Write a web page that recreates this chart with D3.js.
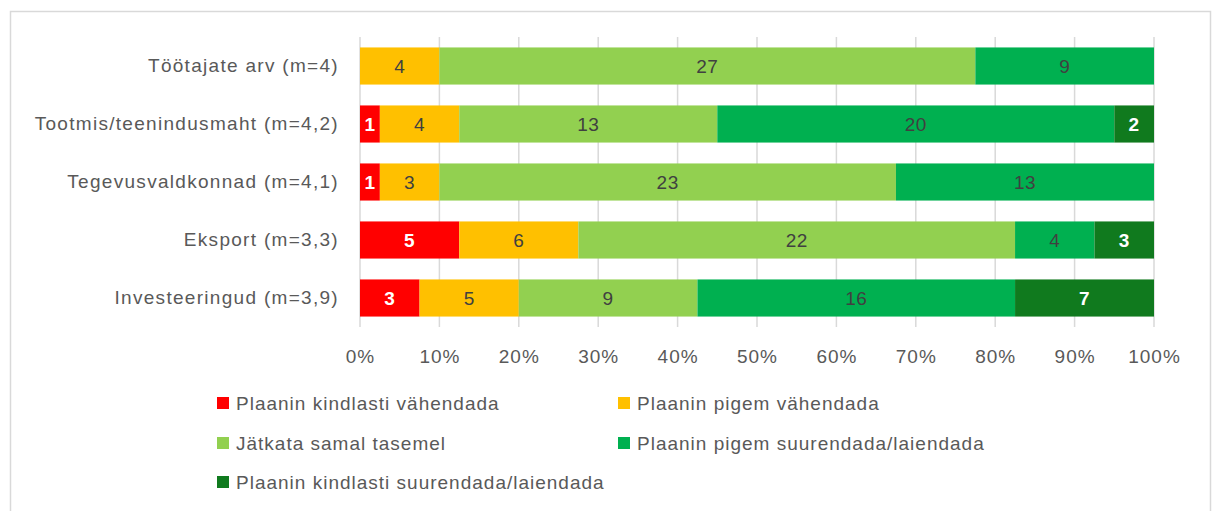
<!DOCTYPE html>
<html><head><meta charset="utf-8">
<script src="https://cdn.jsdelivr.net/npm/d3@7"></script>
<style>body{margin:0;background:#fff;}svg{display:block;font-family:"Liberation Sans",Arial,sans-serif;}</style>
</head><body><svg id="c" width="1216" height="511"></svg>
<script>
const categories = ["Töötajate arv (m=4)","Tootmis/teenindusmaht (m=4,2)","Tegevusvaldkonnad (m=4,1)","Eksport (m=3,3)","Investeeringud (m=3,9)"];
const seriesNames = ["Plaanin kindlasti vähendada","Plaanin pigem vähendada","Jätkata samal tasemel","Plaanin pigem suurendada/laiendada","Plaanin kindlasti suurendada/laiendada"];
const kindlastiVah = [0,1,1,5,3];
const pigemVah = [4,4,3,6,5];
const samal = [27,13,23,22,9];
const pigemSuur = [9,20,13,4,16];
const kindlastiSuur = [0,2,0,3,7];
const colors = ["#FF0000","#FFC000","#92D050","#00B050","#107A1E"];
const labelColors = ["#ffffff","#404040","#404040","#404040","#ffffff"];
const labelWeights = ["bold","normal","normal","normal","bold"];
const tickValues = [0,0.1,0.2,0.3,0.4,0.5,0.6,0.7,0.8,0.9,1];

const svg = d3.select("#c");
svg.append("rect").attr("x",10.5).attr("y",11.5).attr("width",1200).attr("height",520)
  .attr("fill","#fff").attr("stroke","#d9d9d9").attr("stroke-width",1.5);

const x = d3.scaleLinear().domain([0,1]).range([360,1154]);
const y = d3.scaleBand().domain(categories).range([37,327]).paddingInner(0.36).paddingOuter(0.18);

const rows = categories.map((c,i)=>({cat:c, vals:[kindlastiVah[i],pigemVah[i],samal[i],pigemSuur[i],kindlastiSuur[i]]}));

// gridlines + tick labels
const xAxis = d3.axisBottom(x).tickValues(tickValues).tickFormat(d3.format(".0%")).tickSize(0);
const gx = svg.append("g").attr("transform","translate(0,327)").call(xAxis);
gx.select(".domain").remove();
gx.selectAll(".tick text").attr("dy",0).attr("y",36).attr("fill","#595959")
  .style("font-size","19px").style("letter-spacing","1px");
svg.append("g").selectAll("line").data(tickValues).join("line")
  .attr("x1",d=>x(d)).attr("x2",d=>x(d)).attr("y1",37).attr("y2",327)
  .attr("stroke","#d9d9d9").attr("stroke-width",1.5);

// y labels
const yAxis = d3.axisLeft(y).tickSize(0).tickPadding(21);
const gy = svg.append("g").attr("transform","translate(360,0)").call(yAxis);
gy.select(".domain").remove();
gy.selectAll(".tick text").attr("fill","#595959").style("font-size","19px").style("letter-spacing","1.3px");

// bars
rows.forEach(r=>{
  const total = d3.sum(r.vals);
  let cum = 0;
  r.vals.forEach((v,k)=>{
    const x0 = cum/total, x1 = (cum+v)/total;
    cum += v;
    if(v===0) return;
    svg.append("rect").attr("x",x(x0)).attr("y",y(r.cat)).attr("width",x(x1)-x(x0)).attr("height",y.bandwidth()).attr("fill",colors[k]);
    svg.append("text").attr("x",(x(x0)+x(x1))/2).attr("y",y(r.cat)+y.bandwidth()/2)
      .attr("text-anchor","middle").attr("dominant-baseline","central")
      .attr("fill",labelColors[k]).attr("font-weight",labelWeights[k])
      .style("font-size","19px").style("letter-spacing","0.5px").text(v);
  });
});

// legend
const legendPos = [[217,403],[618,403],[217,443],[618,443],[217,482]];
seriesNames.forEach((n,k)=>{
  const [lx,ly] = legendPos[k];
  svg.append("rect").attr("x",lx).attr("y",ly-6).attr("width",12).attr("height",12).attr("fill",colors[k]);
  svg.append("text").attr("x",lx+19).attr("y",ly).attr("dominant-baseline","central")
    .attr("fill","#595959").style("font-size","19px").style("letter-spacing","1px").text(n);
});
</script></body></html>
